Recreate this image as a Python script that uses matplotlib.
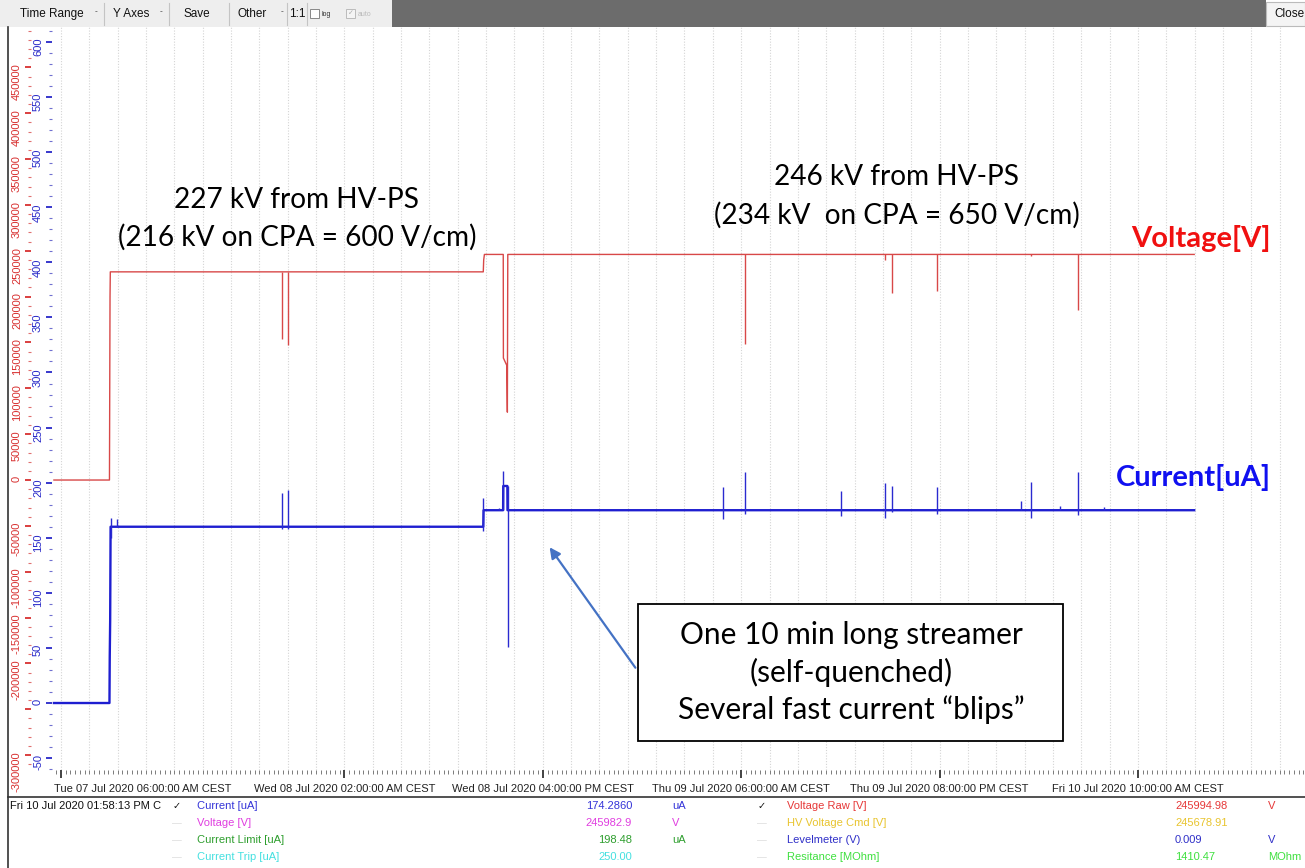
import numpy as np
import matplotlib
matplotlib.use('Agg')
import matplotlib.pyplot as plt
from matplotlib.patches import Rectangle, FancyArrowPatch
from matplotlib.lines import Line2D
from matplotlib.ticker import MultipleLocator, FuncFormatter
from matplotlib.transforms import ScaledTranslation

W, H = 1305, 868

# thời gian: số giờ kể từ Tue 07 Jul 2020 06:00 CEST
# điện áp (kV) - đường chính
volt_t = [-0.5, 3.42, 3.44, 3.46, 3.48, 29.80, 29.83, 29.88, 31.21, 31.22, 31.46, 31.50, 31.53, 79.97]
volt_kv = [0, 0, 101, 200, 227, 227, 240, 246, 246, 133, 125, 74, 246, 246]

# các lần sụt áp ngắn
dip_t = [15.58, 16.00, 48.29, 58.17, 58.67, 61.84, 68.43, 71.77]
dip_top = [227, 227, 246, 246, 246, 246, 246, 246]
dip_kv = [154, 147, 148, 240, 204, 206, 244, 185]

# dòng điện (uA) - đường chính
cur_t = [-0.5, 3.42, 3.44, 3.47, 3.50, 29.80, 29.82, 31.20, 31.21, 31.50, 31.51, 79.97]
cur_ua = [0, 0, 42, 75, 160, 160, 175, 175, 197, 197, 175, 175]

# các "blip" dòng điện (vạch dọc)
blip_t = [3.50, 3.93, 15.58, 16.00, 29.81, 30.90, 31.21, 31.51, 46.74, 48.29, 55.07,
          58.17, 58.67, 61.84, 67.73, 68.43, 70.50, 71.77, 73.61]
blip_hi = [168, 167, 191, 193, 186, 177, 211, 197, 196, 210, 192, 200, 197, 196, 183, 201, 179, 210, 178]
blip_lo = [150, 160, 158, 158, 156, 175, 175, 51, 167, 172, 170, 168, 173, 172, 175, 168, 175, 171, 175]

tick_hours = [0, 20, 34, 48, 62, 76]
tick_labels = ['Tue 07 Jul 2020 06:00:00 AM CEST', 'Wed 08 Jul 2020 02:00:00 AM CEST',
               'Wed 08 Jul 2020 04:00:00 PM CEST', 'Thu 09 Jul 2020 06:00:00 AM CEST',
               'Thu 09 Jul 2020 08:00:00 PM CEST', 'Fri 10 Jul 2020 10:00:00 AM CEST']

# bảng giá trị phía dưới
left_names = ['Current [uA]', 'Voltage [V]', 'Current Limit [uA]', 'Current Trip [uA]']
left_values = ['174.2860', '245982.9', '198.48', '250.00']
left_units = ['uA', 'V', 'uA', '']
left_colors = ['#3434d8', '#e03ee0', '#2e9e2e', '#44e0e0']
right_names = ['Voltage Raw [V]', 'HV Voltage Cmd [V]', 'Levelmeter (V)', 'Resitance [MOhm]']
right_values = ['245994.98', '245678.91', '0.009', '1410.47']
right_units = ['V', '', 'V', 'MOhm']
right_colors = ['#e63838', '#e8c42e', '#3030c8', '#3ee03e']
checked = [True, False, False, False]

UI = ['Liberation Sans', 'DejaVu Sans']
ANN = ['Lato', 'DejaVu Sans']
PT = 72 / 100  # 1 pixel tính bằng point


def px(x, y):
    # toạ độ pixel (gốc trên-trái) -> figure fraction
    return x / W, 1 - y / H


fig = plt.figure(figsize=(W / 100, H / 100), dpi=100)
fig.patch.set_facecolor('white')

ax = fig.add_axes([52 / W, (H - 770) / H, (W - 52) / W, (770 - 27) / H])
ax2 = ax.twinx()

ax.set_xlim(-0.635, 87.79)
ax.set_ylim(-60.8, 613.6)
ax2.set_ylim(-316200, 494000)

for a in (ax, ax2):
    for s in a.spines.values():
        s.set_visible(False)
ax.patch.set_alpha(0)

# lưới dọc mỗi 2 giờ
ax.xaxis.set_minor_locator(MultipleLocator(1 / 3))
for g in np.arange(0, 88, 2):
    ax.axvline(g, color='#d4d4d4', lw=0.8, ls=(0, (1, 1.5)), zorder=0)

ax.set_xticks(tick_hours)
ax.set_xticklabels(tick_labels, fontsize=8, family=UI, color='#222222')
ax.tick_params(axis='x', which='major', length=8 * PT, width=1.2, color='#222222', pad=4)
ax.tick_params(axis='x', which='minor', length=4 * PT, width=0.6, color='#666666')

# trục dòng điện (xanh)
ax.yaxis.set_major_locator(MultipleLocator(50))
ax.yaxis.set_minor_locator(MultipleLocator(10))
ax.yaxis.set_major_formatter(FuncFormatter(lambda v, p: '%d' % v))
ax.tick_params(axis='y', which='major', length=6 * PT, width=1.3, color='#2828c8',
               labelcolor='#2828c8', labelsize=8, labelrotation=90, pad=3 * PT)
ax.tick_params(axis='y', which='minor', length=3 * PT, width=0.8, color='#7070d0')

# trục điện áp (đỏ), đặt bên trái
ax2.yaxis.set_ticks_position('left')
ax2.yaxis.set_label_position('left')
ax2.spines['left'].set_position(('outward', 21 * PT))
ax2.yaxis.set_major_locator(MultipleLocator(50000))
ax2.yaxis.set_minor_locator(MultipleLocator(10000))
ax2.yaxis.set_major_formatter(FuncFormatter(lambda v, p: '' if round(v) == -250000 else '%d' % v))
ax2.tick_params(axis='y', which='major', length=6 * PT, width=1.3, color='#d83030',
                labelcolor='#d83030', labelsize=8, labelrotation=90, pad=3 * PT)
ax2.tick_params(axis='y', which='minor', length=3 * PT, width=0.8, color='#e07070')
for lab in ax.get_yticklabels() + ax2.get_yticklabels():
    lab.set_family(UI)

# nhãn thời gian đầu tiên dịch vào trong trục
first = ax.get_xticklabels()[0]
first.set_ha('left')
first.set_transform(first.get_transform() + ScaledTranslation(-7 / 100, 0, fig.dpi_scale_trans))

# vẽ dữ liệu
ax2.plot(volt_t, np.array(volt_kv) * 1000.0, color='#d84848', lw=1.0, zorder=3)
ax2.vlines(dip_t, np.array(dip_kv) * 1000.0, np.array(dip_top) * 1000.0,
           color='#d84848', lw=1.0, zorder=3)

ax.plot(cur_t, cur_ua, color='#1e1ed0', lw=1.7, zorder=4)
ax.vlines(blip_t, blip_lo, blip_hi, color='#2a2ad0', lw=1.0, zorder=4)

# chú thích
fig.text(*px(297, 200), '227 kV from HV-PS', ha='center', va='center', fontsize=20.2, family=ANN)
fig.text(*px(297, 237), '(216 kV on CPA = 600 V/cm)', ha='center', va='center', fontsize=20.2, family=ANN)
fig.text(*px(897, 177), '246 kV from HV-PS', ha='center', va='center', fontsize=20.2, family=ANN)
fig.text(*px(897, 215), '(234 kV  on CPA = 650 V/cm)', ha='center', va='center', fontsize=20.2, family=ANN)
fig.text(*px(1271, 239), 'Voltage[V]', ha='right', va='center', fontsize=21, family=ANN,
         weight='bold', color='#f01010')
fig.text(*px(1271, 477), 'Current[uA]', ha='right', va='center', fontsize=21, family=ANN,
         weight='bold', color='#1010f0')

fig.patches.append(Rectangle(px(638, 741), 425 / W, 137 / H, transform=fig.transFigure,
                             facecolor='white', edgecolor='black', lw=1.3, zorder=5))
for yy, s in zip([635, 672, 710], ['One 10 min long streamer', '(self-quenched)',
                                   'Several fast current \u201cblips\u201d']):
    fig.text(*px(851, yy), s, ha='center', va='center', fontsize=21.5, family=ANN, zorder=6)
fig.add_artist(FancyArrowPatch(px(637, 670), px(548, 545), transform=fig.transFigure,
                               arrowstyle='-|>', mutation_scale=16, color='#4472c4', lw=1.6))

# thanh công cụ phía trên
fig.patches.append(Rectangle(px(0, 27), 392 / W, 27 / H, transform=fig.transFigure,
                             facecolor='#eeeeee', edgecolor='none'))
fig.patches.append(Rectangle(px(392, 27), 874 / W, 27 / H, transform=fig.transFigure,
                             facecolor='#6c6c6c', edgecolor='none'))
fig.patches.append(Rectangle(px(1266, 26), 39 / W, 24 / H, transform=fig.transFigure,
                             facecolor='#f4f4f4', edgecolor='#bbbbbb', lw=0.8))
for sx in [104, 169, 229, 287, 307]:
    fig.add_artist(Line2D([sx / W] * 2, [1 - 3 / H, 1 - 25 / H], color='#c4c4c4', lw=0.8))
for tx, s in [(20, 'Time Range'), (113, 'Y Axes'), (184, 'Save'), (238, 'Other'), (289, '1:1'),
              (1274, 'Close')]:
    fig.text(*px(tx, 14), s, ha='left', va='center', fontsize=8.5, family=UI, color='#111111')
for tx in [96, 161, 282]:
    fig.text(*px(tx, 12), '-', ha='center', va='center', fontsize=6, family=UI, color='#333333')
fig.patches.append(Rectangle(px(310, 18), 9 / W, 9 / H, transform=fig.transFigure,
                             facecolor='white', edgecolor='#888888', lw=0.7))
fig.text(*px(322, 14), 'log', ha='left', va='center', fontsize=5, family=UI, color='#333333')
fig.patches.append(Rectangle(px(346, 18), 9 / W, 9 / H, transform=fig.transFigure,
                             facecolor='#f4f4f4', edgecolor='#bbbbbb', lw=0.7))
fig.text(*px(350.5, 14), '\u2713', ha='center', va='center', fontsize=5, family=UI, color='#aaaaaa')
fig.text(*px(358, 14), 'auto', ha='left', va='center', fontsize=5, family=UI, color='#bbbbbb')

# khung
fig.add_artist(Line2D([8 / W] * 2, [1 - 27 / H, 0], color='#333333', lw=1.2))
fig.add_artist(Line2D([8 / W, 1], [1 - 797 / H] * 2, color='#333333', lw=1.2))

# bảng giá trị
rows_y = [806, 823, 840, 857]
fig.text(*px(10, rows_y[0]), 'Fri 10 Jul 2020 01:58:13 PM C', ha='left', va='center',
         fontsize=8, family=UI, color='#111111')
for i, yy in enumerate(rows_y):
    mark = '\u2713' if checked[i] else '\u2014'
    mcol = '#111111' if checked[i] else '#dddddd'
    fig.text(*px(177, yy), mark, ha='center', va='center', fontsize=7, family=UI, color=mcol)
    fig.text(*px(762, yy), mark, ha='center', va='center', fontsize=7, family=UI, color=mcol)
    fig.text(*px(197, yy), left_names[i], ha='left', va='center', fontsize=8, family=UI, color=left_colors[i])
    fig.text(*px(632, yy), left_values[i], ha='right', va='center', fontsize=8, family=UI, color=left_colors[i])
    fig.text(*px(672, yy), left_units[i], ha='left', va='center', fontsize=8, family=UI, color=left_colors[i])
    fig.text(*px(787, yy), right_names[i], ha='left', va='center', fontsize=8, family=UI, color=right_colors[i])
    fig.text(*px(1175, yy), right_values[i], ha='left', va='center', fontsize=8, family=UI, color=right_colors[i])
    fig.text(*px(1268, yy), right_units[i], ha='left', va='center', fontsize=8, family=UI, color=right_colors[i])

fig.savefig('out.png', dpi=100)
